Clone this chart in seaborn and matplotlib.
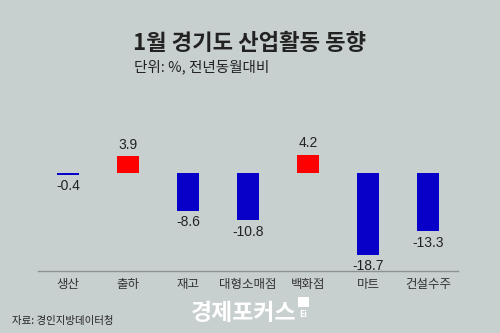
import matplotlib
matplotlib.use("Agg")
import matplotlib.pyplot as plt
from matplotlib.patches import Rectangle
import seaborn as sns
import pandas as pd

categories = ["생산", "출하", "재고", "대형소매점", "백화점", "마트", "건설수주"]
values = [-0.4, 3.9, -8.6, -10.8, 4.2, -18.7, -13.3]
title = "1월 경기도 산업활동 동향"
subtitle = "단위: %, 전년동월대비"
source = "자료: 경인지방데이터청"
brand = "경제포커스"

BG = "#c8cfcf"
RED = "#ff0000"
BLUE = "#0800c8"

sns.set_theme(style="white")
plt.rcParams["font.family"] = ["Noto Sans CJK KR", "DejaVu Sans"]

df = pd.DataFrame({"cat": categories, "val": values})
colors = [RED if v > 0 else BLUE for v in values]

fig = plt.figure(figsize=(5, 3.33), dpi=100, facecolor=BG)
ax = fig.add_axes([0.076, 0.1862, 0.84, 0.3934])
ax.set_facecolor(BG)

sns.barplot(data=df, x="cat", y="val", hue="cat", palette=colors,
            legend=False, width=0.37, ax=ax, saturation=1, linewidth=0)

ax.set_xlim(-0.5, 6.5)
ax.set_ylim(-22.3, 7.5)
for s in ["top", "left", "right"]:
    ax.spines[s].set_visible(False)
ax.spines["bottom"].set_color("#8c9292")
ax.spines["bottom"].set_linewidth(1.0)
ax.set_yticks([])
ax.set_xlabel("")
ax.set_ylabel("")
ax.tick_params(axis="x", length=0, pad=5, labelsize=9, labelcolor="#333333")

for i, v in enumerate(values):
    if v >= 0:
        ax.annotate(f"{v:.1f}", (i, v), xytext=(0, 3), textcoords="offset points",
                    ha="center", va="bottom", fontsize=10, color="#222222",
                    family=["Liberation Sans", "DejaVu Sans"])
    else:
        ax.annotate(f"{v:.1f}", (i, v), xytext=(0, -3), textcoords="offset points",
                    ha="center", va="top", fontsize=10, color="#222222",
                    family=["Liberation Sans", "DejaVu Sans"])

fig.text(0.5, 1 - 43 / 333, title, ha="center", va="center", fontsize=16,
         fontweight="bold", color="#222222")
fig.text(134 / 500, 1 - 67 / 333, subtitle, ha="left", va="center", fontsize=10.5,
         color="#222222")
fig.text(12 / 500, 1 - 321 / 333, source, ha="left", va="center", fontsize=7.5,
         color="#222222")
fig.text(191 / 500, 1 - 313 / 333, brand, ha="left", va="center", fontsize=16.5,
         fontweight="bold", color="white")
# small logo block next to brand text
fig.patches.append(Rectangle((298 / 500, 1 - 307 / 333), 11 / 500, 10 / 333,
                             transform=fig.transFigure, facecolor="white",
                             edgecolor="none"))
fig.text(303.5 / 500, 1 - 314.5 / 333, "Ei", ha="center", va="center", fontsize=5.5,
         fontweight="bold", color="white", family=["DejaVu Sans"])

fig.savefig("out.png", dpi=100, facecolor=BG)
